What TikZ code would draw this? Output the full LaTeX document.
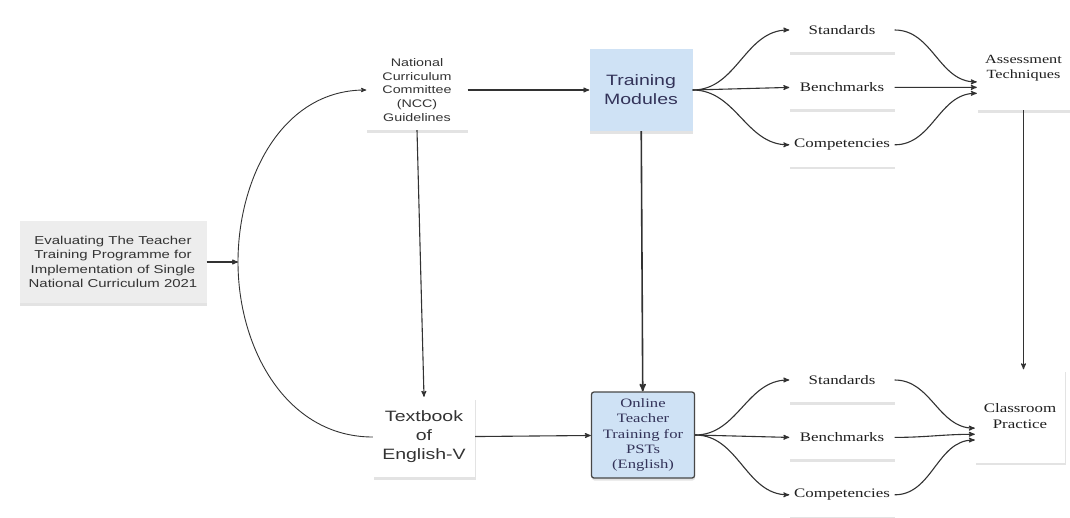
\documentclass[tikz,border=0pt]{standalone}
\usepackage{fontspec}
\newfontfamily\boxsans[FakeStretch=1.3]{Liberation Sans}
\newfontfamily\boxserif[FakeStretch=1.3]{Liberation Serif}
\usepackage{tikz}
\usetikzlibrary{shapes.geometric, arrows}
\usetikzlibrary{positioning}
\usetikzlibrary{shadows}
\definecolor{modblue}{RGB}{207,226,245}
\definecolor{linegray}{RGB}{50,50,50}

\begin{document}
\begin{tikzpicture}[x=1pt, y=1pt,
                module/.style={align=center, inner sep=1pt, fill=white,
                        drop shadow={shadow xshift=0.5pt, shadow yshift=-2.5pt,
                        opacity=0.22}},
                sansbox/.style={module, text=black!80,
                        font=\boxsans\fontsize{11}{13.7}\selectfont},
                bigbox/.style={module, text=black!80,
                        font=\boxsans\fontsize{15}{19}\selectfont},
                serifbox/.style={module, text=black!88,
                        font=\boxserif\fontsize{13}{15.3}\selectfont},
                outcome/.style={serifbox, minimum width=105, minimum height=44},
                arrow/.style={-stealth', line width=1.1pt, draw=linegray},
            ]
            \useasboundingbox (0,0) rectangle (1070,-517);

            % left side
            \node[sansbox, fill=black!7, minimum width=187, minimum height=82,
                font=\boxsans\fontsize{11.5}{14.5}\selectfont] (main) at (113,-262)
                {Evaluating The Teacher\\Training Programme for\\Implementation of Single\\National Curriculum 2021};
            \node[sansbox, minimum width=101, minimum height=80] (ncc) at (417,-90)
                {National\\Curriculum\\Committee\\(NCC)\\Guidelines};
            \node[bigbox, minimum width=102, minimum height=80] (textbook) at (424,-437)
                {Textbook\\of\\English-V};
            \coordinate (bend) at (238,-262);

            % training
            \node[bigbox, fill=modblue, text=black!75!blue!60!gray, minimum width=103,
                minimum height=82] (modules) at (641,-90) {Training\\Modules};
            \node[serifbox, fill=modblue, draw=black!72, line width=1.3pt,
                rounded corners=2.5pt, text=black!75!blue!60!gray,
                minimum width=103, minimum height=86,
                font=\boxserif\fontsize{12.8}{15.3}\selectfont] (online) at (643,-435)
                {Online\\Teacher\\Training for\\PSTs\\(English)};

            % outcomes
            \node[outcome] (standards_top) at (842,-30) {Standards};
            \node[outcome, below=13pt of standards_top] (benchmarks_top) {Benchmarks};
            \node[outcome, below=13pt of benchmarks_top] (competencies_top) {Competencies};
            \node[outcome] (standards_bot) at (842,-380) {Standards};
            \node[outcome, below=13pt of standards_bot] (benchmarks_bot) {Benchmarks};
            \node[outcome, below=13pt of benchmarks_bot] (competencies_bot) {Competencies};

            \node[serifbox, minimum width=93, minimum height=83,
                font=\boxserif\fontsize{12.5}{15}\selectfont] (assessment) at (1023.5,-68.5)
                {Assessment\\Techniques};
            \node[serifbox, minimum width=90, minimum height=93] (classroom) at (1020,-416)
                {Classroom\\Practice};

            \draw[arrow] (main) -- (bend);
            \draw[arrow, line width=0.9pt] (textbook.west) to[out=180, in=-90] (bend)
                to[out=90, in=180] (ncc.west);
            \draw[arrow] (ncc) -- (modules);
            \draw[arrow] (ncc.south) -- (textbook.north);
            \draw[arrow] (textbook) -- (online);
            \draw[arrow, line width=1.6pt] (modules) -- (online);

            \draw[arrow] (modules.east) to[out=0, in=180] (standards_top.west);
            \draw[arrow] (modules.east) -- (benchmarks_top.west);
            \draw[arrow] (modules.east) to[out=0, in=180] (competencies_top.west);
            \draw[arrow] (online.east) to[out=0, in=180] (standards_bot.west);
            \draw[arrow] (online.east) -- (benchmarks_bot.west);
            \draw[arrow] (online.east) to[out=0, in=180] (competencies_bot.west);

            \draw[arrow] (standards_top.east) to[out=0, in=180] (assessment.196);
            \draw[arrow] (benchmarks_top.east) to[out=0, in=180] (assessment.202);
            \draw[arrow] (competencies_top.east) to[out=0, in=180] (assessment.208);
            \draw[arrow] (standards_bot.east) to[out=0, in=180] (classroom.195);
            \draw[arrow] (benchmarks_bot.east) to[out=0, in=180] (classroom.202);
            \draw[arrow] (competencies_bot.east) to[out=0, in=180] (classroom.208);

            \draw[arrow] (assessment.south) -- (assessment.south |- classroom.north);
        \end{tikzpicture}
\end{document}
